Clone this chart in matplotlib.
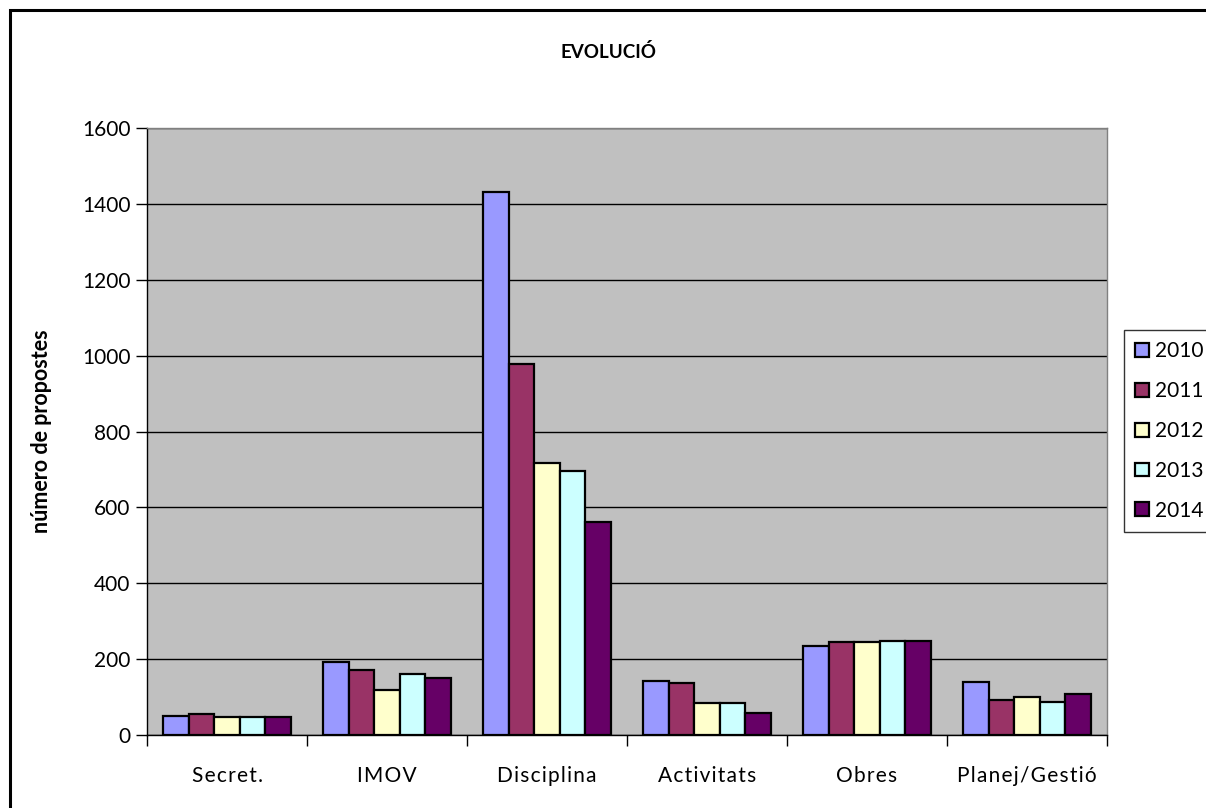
import matplotlib
matplotlib.use("Agg")
import matplotlib.pyplot as plt
import matplotlib.patches as mpatches
import numpy as np

categories = ["Secret.", "IMOV", "Disciplina", "Activitats", "Obres", "Planej/Gestió"]
years = ["2010", "2011", "2012", "2013", "2014"]
values = {
    "2010": [50, 192, 1431, 142, 235, 139],
    "2011": [55, 171, 978, 137, 245, 92],
    "2012": [48, 118, 718, 85, 244, 101],
    "2013": [48, 161, 697, 85, 248, 87],
    "2014": [48, 150, 562, 58, 249, 109],
}
colors = ["#9999FF", "#993366", "#FFFFCC", "#CCFFFF", "#660066"]

plt.rcParams['font.family'] = ['Lato', 'DejaVu Sans']

fig = plt.figure(figsize=(12.06, 8.08), dpi=100)
ax = fig.add_axes([147 / 1206, 1 - 735 / 808, 960 / 1206, 607 / 808])
ax.set_facecolor("#C0C0C0")

x = np.arange(len(categories))
w = 0.159
for i, yr in enumerate(years):
    ax.bar(x - 2 * w + i * w, values[yr], width=w, color=colors[i],
           edgecolor="black", linewidth=1.6, label=yr, zorder=3)

ax.set_ylim(0, 1600)
ax.set_xlim(-0.5, len(categories) - 0.5)
ax.set_yticks(range(0, 1601, 200))
ax.tick_params(axis='y', labelsize=15, length=8, width=1, direction='out', pad=4)
ax.yaxis.grid(True, color="black", linewidth=1, zorder=1)
ax.set_axisbelow(True)

# ticks at category boundaries, labels at centres (Excel-like letter spacing)
spaced = ["\u200a".join(c) for c in categories]
ax.set_xticks(np.arange(-0.5, len(categories), 1))
ax.set_xticklabels([])
ax.set_xticks(x, minor=True)
ax.set_xticklabels(spaced, minor=True, fontsize=15)
ax.tick_params(axis='x', which='major', length=8, width=1, direction='out')
ax.tick_params(axis='x', which='minor', length=0, pad=22)

for side in ["top", "right"]:
    ax.spines[side].set_color("#808080")
    ax.spines[side].set_linewidth(1)
for side in ["left", "bottom"]:
    ax.spines[side].set_color("black")
    ax.spines[side].set_linewidth(1)

ax.set_ylabel("número de propostes", fontsize=15.5, fontweight="bold")
ax.yaxis.set_label_coords((52 - 147) / 960, 0.5)
fig.text(608 / 1206, 1 - 52 / 808, "EVOLUCIÓ", fontsize=13.5, fontweight="bold",
         ha="center", va="center")

# outer chart frame
frame = mpatches.Rectangle((10 / 1206, -0.05), 1.2, 1.05 - 10 / 808,
                           transform=fig.transFigure, fill=False,
                           edgecolor="black", linewidth=2.2)
fig.patches.append(frame)

handles = [mpatches.Patch(facecolor=c, edgecolor="black", linewidth=1.6) for c in colors]
leg = ax.legend(handles, years, loc="upper left",
                bbox_to_anchor=(1124 / 1206, 1 - 330 / 808), bbox_transform=fig.transFigure,
                fontsize=15, frameon=True, fancybox=False, edgecolor="black",
                handlelength=0.65, handleheight=0.65, handletextpad=0.3,
                labelspacing=0.95, borderpad=0.55, borderaxespad=0)
leg.get_frame().set_linewidth(1)

fig.savefig("out.png", dpi=100)
